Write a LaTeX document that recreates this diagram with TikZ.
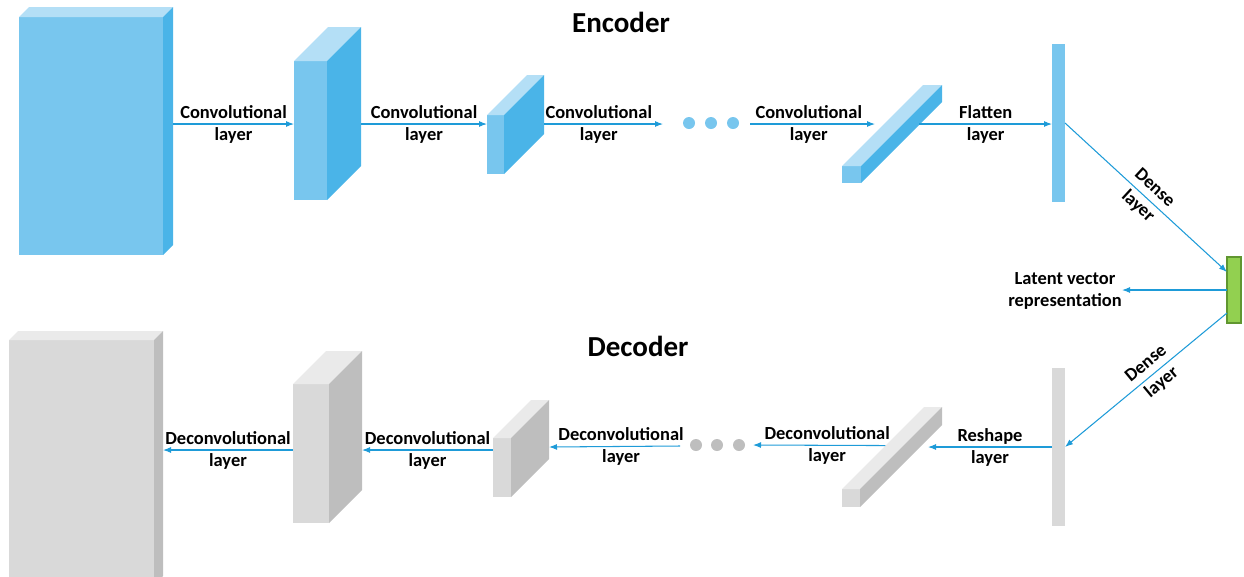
\documentclass[tikz,border=0pt]{standalone}
\usepackage{fontspec}
\setmainfont{Carlito}
\usetikzlibrary{arrows.meta,calc}

\definecolor{bluefront}{RGB}{120,198,238}
\definecolor{bluetop}{RGB}{180,223,246}
\definecolor{blueside}{RGB}{74,180,232}
\definecolor{grayfront}{RGB}{217,217,217}
\definecolor{graytop}{RGB}{234,234,234}
\definecolor{grayside}{RGB}{190,190,190}
\definecolor{latentgreen}{RGB}{146,208,80}
\definecolor{latentedge}{RGB}{96,150,48}
\definecolor{arrowblue}{RGB}{30,155,216}

\newlength{\unitpx}
\setlength{\unitpx}{0.02cm}

% front face is a node, top and side faces hang off its corners
% #1 name, #2,#3 front top left, #4 width, #5 height, #6 depth, #7 colour set
\newcommand{\slab}[7]{
  \node[face,fill=#7front,minimum width=#4\unitpx,minimum height=#5\unitpx] (#1) at (#2,#3) {};
  \coordinate (#1-nw) at ([shift={(#6,-#6)}]#1.north west);
  \coordinate (#1-ne) at ([shift={(#6,-#6)}]#1.north east);
  \coordinate (#1-se) at ([shift={(#6,-#6)}]#1.south east);
  \fill[#7top] (#1.north west) -- (#1-nw) -- (#1-ne) -- (#1.north east) -- cycle;
  \fill[#7side] (#1.north east) -- (#1-ne) -- (#1-se) -- (#1.south east) -- cycle;
}

\begin{document}
\begin{tikzpicture}[x=0.02cm,y=-0.02cm
  ,>={Latex[length=0.16cm,width=0.12cm]}
  ,face/.style={rectangle,inner sep=0pt,outer sep=0pt,anchor=north west}
  ,conn/.style={->,color=arrowblue,line width=0.6pt}
  ,lbl/.style={align=center,text=black,inner sep=0pt
    ,font=\bfseries\fontsize{10.5}{12.5}\selectfont}
  ,dense/.style={lbl,sloped,font=\bfseries\fontsize{10.5}{14}\selectfont}
  ,title/.style={font=\bfseries\fontsize{16.5}{20}\selectfont}
  ,dot/.style={circle,inner sep=0pt,minimum size=12\unitpx}]

  \useasboundingbox (0,0) rectangle (1244,576);

  \coordinate (eline) at (0,124);
  \coordinate (dline) at (0,447);
  \coordinate (dlow) at (0,450);

  % encoder
  \node[title] (enctitle) at (621,22) {Encoder};
  \slab{enc1}{19}{17}{144}{238}{10}{blue}
  \slab{enc2}{294}{61}{33}{139}{34}{blue}
  \slab{enc3}{487}{115}{17}{59}{40}{blue}
  \slab{enc4}{842}{166}{19}{17}{81}{blue}
  \node[face,fill=bluefront,minimum width=13\unitpx,minimum height=158\unitpx] (flat) at (1052,44) {};
  \node[dot,fill=bluefront] (ed1) at (689,123) {};
  \node[dot,fill=bluefront] (ed2) at (711,123) {};
  \node[dot,fill=bluefront] (ed3) at (733,123) {};

  % latent vector
  \node[face,fill=latentgreen,draw=latentedge,line width=0.8pt
    ,minimum width=14\unitpx,minimum height=66\unitpx] (lat) at (1227,257) {};
  \node[lbl,anchor=east] (latxt) at (1122,291) {Latent vector\\representation};

  % decoder
  \node[title] (dectitle) at (638,346) {Decoder};
  \slab{dec1}{9}{340}{145}{245}{9}{gray}
  \slab{dec2}{293}{384}{36}{139}{33}{gray}
  \slab{dec3}{493}{438}{18}{59}{38}{gray}
  \slab{dec4}{842}{489}{18}{18}{82}{gray}
  \node[face,fill=grayfront,minimum width=13\unitpx,minimum height=158\unitpx] (rshp) at (1052,368) {};
  \node[dot,fill=grayside] (dd1) at (696,445) {};
  \node[dot,fill=grayside] (dd2) at (717,445) {};
  \node[dot,fill=grayside] (dd3) at (739,445) {};

  % free ends of the arrows next to the dots and the long bars
  \coordinate (ed-in) at (663,124);
  \coordinate (ed-out) at (750,124);
  \coordinate (enc4-in) at (875,124);
  \coordinate (enc4-out) at ($(enc4.south east)!0.72!(enc4-se)$);
  \coordinate (dec4-in) at (928,447);
  \coordinate (dec4-out) at ($(dec4.north west)!0.53!(dec4-nw)$);
  \coordinate (dd-in) at (753,445);
  \coordinate (dd-out) at (680,446);

  \path[conn]
  (enc1-se |- eline) edge node[lbl] {Convolutional\\layer} (enc2.west |- eline)
  (enc2-se |- eline) edge node[lbl] {Convolutional\\layer} (enc3.west |- eline)
  (enc3-se |- eline) edge node[lbl,pos=0.46] {Convolutional\\layer} (ed-in)
  (ed-out)           edge node[lbl,pos=0.47] {Convolutional\\layer} (enc4-in)
  (enc4-out |- eline) edge node[lbl] {Flatten\\layer}      (flat.west |- eline)
  (flat.east)        edge node[dense] {Dense\\layer}        ([yshift=18\unitpx]lat.west)
  (lat.west)         edge                                  (latxt.east |- lat.west)
  ([yshift=-23\unitpx]lat.west) edge node[dense,pos=0.45] {Dense\\layer} (rshp.east)
  (rshp.west)        edge node[lbl] {Reshape\\layer}       (dec4-in)
  (dec4-out)         edge node[lbl,pos=0.44] {Deconvolutional\\layer} (dd-in)
  (dd-out)           edge node[lbl,pos=0.45] {Deconvolutional\\layer} (dec3-se |- dline)
  (dec3.west |- dlow) edge node[lbl] {Deconvolutional\\layer} (dec2-se |- dlow)
  (dec2.west |- dlow) edge node[lbl] {Deconvolutional\\layer} (dec1-se |- dlow)
  ;

\end{tikzpicture}
\end{document}
